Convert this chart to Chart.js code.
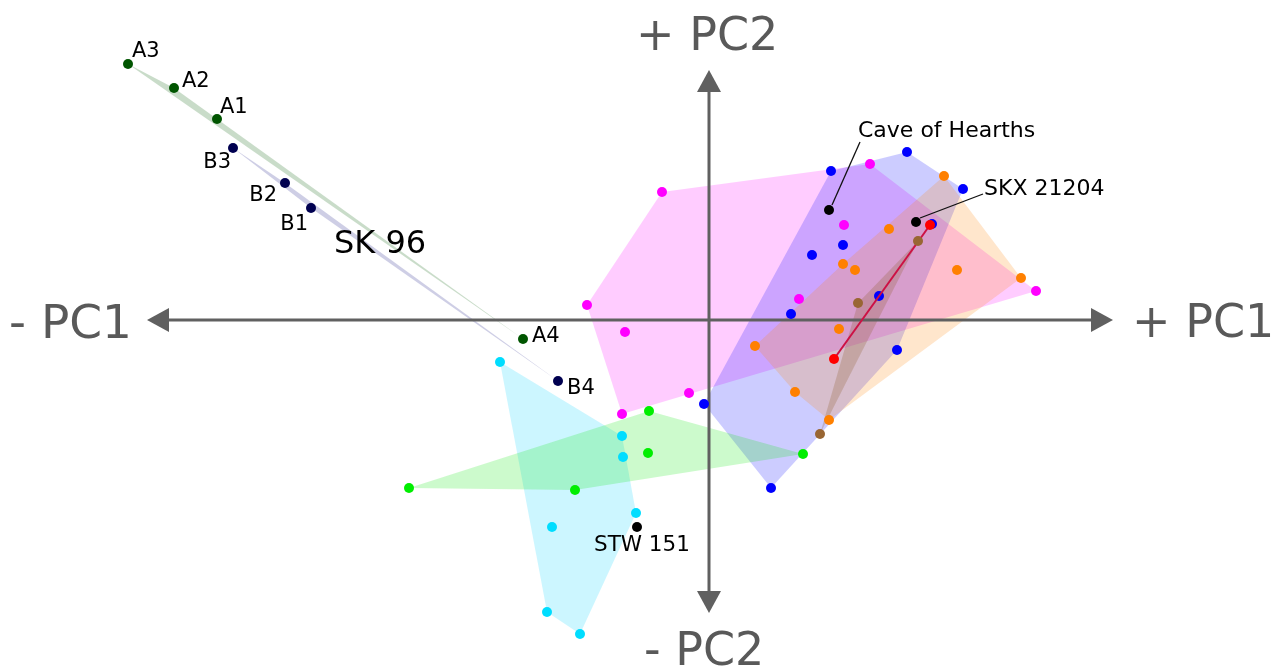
<!DOCTYPE html>
<html>
<head>
<meta charset="utf-8">
<script src="https://cdn.jsdelivr.net/npm/chart.js@4"></script>
<style>
  html, body { margin: 0; background: #fff; }
  #wrap { width: 1287px; height: 671px; }
</style>
</head>
<body>
<div id="wrap"><canvas id="pca"></canvas></div>
<script>
// PC scores (PC1, PC2)
const magenta = [[-0.47,1.28],[-1.22,0.15],[-0.84,-0.12],[-0.20,-0.73],[-0.87,-0.94],[1.35,0.95],[0.90,0.21],[1.61,1.56],[3.27,0.29]];
const blue    = [[1.98,1.68],[1.22,1.49],[2.54,1.31],[2.23,0.96],[1.34,0.75],[1.03,0.65],[1.70,0.24],[0.82,0.06],[1.88,-0.30],[-0.05,-0.84],[0.62,-1.68]];
const orange  = [[2.35,1.44],[1.80,0.91],[1.34,0.56],[1.46,0.50],[2.48,0.50],[3.12,0.42],[1.30,-0.09],[0.46,-0.26],[0.86,-0.72],[1.20,-1.00]];
const cyan    = [[-2.09,-0.42],[-0.87,-1.16],[-0.86,-1.37],[-0.73,-1.93],[-1.57,-2.07],[-1.62,-2.92],[-1.29,-3.14]];
const green   = [[-3.00,-1.68],[-1.34,-1.70],[-0.60,-0.91],[-0.61,-1.33],[0.94,-1.34]];
const brown   = [[2.09,0.79],[1.49,0.17],[1.11,-1.14]];
const red     = [[2.21,0.95],[1.25,-0.39]];

const sk96A = [[-4.92,2.01],[-5.35,2.32],[-5.81,2.56],[-1.86,-0.19]];
const sk96B = [[-3.98,1.12],[-4.24,1.37],[-4.76,1.72],[-1.51,-0.61]];
const sk96ALabels = ["A1","A2","A3","A4"];
const sk96BLabels = ["B1","B2","B3","B4"];

const named = [[1.20,1.10],[2.07,0.98],[-0.72,-2.07]];
const namedLabels = ["Cave of Hearths","SKX 21204","STW 151"];

const axisLabels = ["+ PC1","- PC1","+ PC2","- PC2"];

const pts = a => a.map(p => ({x: p[0], y: p[1]}));

// label placement (pixel offsets from the point), kept apart from the data
const labelPos = {
  A1: [3,-6,'left',21], A2: [8,-1,'left',21], A3: [4,-7,'left',21], A4: [9,3,'left',21],
  B1: [-3,22,'right',21], B2: [-8,18,'right',21], B3: [-2,20,'right',21], B4: [9,13,'left',21],
  "Cave of Hearths": [29,-73,'left',22], "SKX 21204": [68,-27,'left',22], "STW 151": [-43,24,'left',21.5]
};
const leaders = {"Cave of Hearths": [[3,-5],[31,-68]], "SKX 21204": [[4,-4],[67,-28]]};

const hulls = [
  {data: sk96A, fill: 'rgba(60,130,60,0.28)'},
  {data: sk96B, fill: 'rgba(80,80,160,0.28)'},
  {data: magenta, fill: 'rgba(255,0,255,0.2)'},
  {data: blue, fill: 'rgba(0,0,255,0.2)'},
  {data: orange, fill: 'rgba(255,128,0,0.2)'},
  {data: cyan, fill: 'rgba(0,210,255,0.2)'},
  {data: green, fill: 'rgba(0,230,0,0.2)'},
  {data: brown, fill: 'rgba(140,90,40,0.25)'}
];

function convexHull(p) {
  p = p.slice().sort((a, b) => a[0] - b[0] || a[1] - b[1]);
  const cross = (o, a, b) => (a[0]-o[0])*(b[1]-o[1]) - (a[1]-o[1])*(b[0]-o[0]);
  const lower = [], upper = [];
  for (const q of p) { while (lower.length >= 2 && cross(lower[lower.length-2], lower[lower.length-1], q) <= 0) lower.pop(); lower.push(q); }
  for (let i = p.length - 1; i >= 0; i--) { const q = p[i]; while (upper.length >= 2 && cross(upper[upper.length-2], upper[upper.length-1], q) <= 0) upper.pop(); upper.push(q); }
  upper.pop(); lower.pop();
  return lower.concat(upper);
}

const grey = '#606060';

const hullPlugin = {
  id: 'hulls',
  beforeDatasetsDraw(chart) {
    const {ctx, scales: {x, y}} = chart;
    ctx.save();
    hulls.forEach(h => {
      const px = h.data.map(p => [x.getPixelForValue(p[0]), y.getPixelForValue(p[1])]);
      const hull = convexHull(px);
      ctx.beginPath();
      hull.forEach((q, i) => i ? ctx.lineTo(q[0], q[1]) : ctx.moveTo(q[0], q[1]));
      ctx.closePath();
      ctx.fillStyle = h.fill;
      ctx.fill();
    });

    // axes with arrow heads
    const cx = x.getPixelForValue(0), cy = y.getPixelForValue(0);
    const left = 147, right = 1113, top = 70, bottom = 613, len = 22, hw = 12;
    ctx.strokeStyle = grey; ctx.fillStyle = grey; ctx.lineWidth = 3;
    ctx.beginPath();
    ctx.moveTo(left + len, cy); ctx.lineTo(right - len, cy);
    ctx.moveTo(cx, top + len); ctx.lineTo(cx, bottom - len);
    ctx.stroke();
    const tri = (a, b, c) => { ctx.beginPath(); ctx.moveTo(...a); ctx.lineTo(...b); ctx.lineTo(...c); ctx.closePath(); ctx.fill(); };
    tri([left, cy], [left + len, cy - hw], [left + len, cy + hw]);
    tri([right, cy], [right - len, cy - hw], [right - len, cy + hw]);
    tri([cx, top], [cx - hw, top + len], [cx + hw, top + len]);
    tri([cx, bottom], [cx - hw, bottom - len], [cx + hw, bottom - len]);
    ctx.restore();
  },
  afterDatasetsDraw(chart) {
    const {ctx, scales: {x, y}} = chart;
    ctx.save();
    ctx.textBaseline = 'alphabetic';
    const put = (name, p) => {
      const [dx, dy, align, size] = labelPos[name];
      const px = x.getPixelForValue(p[0]), py = y.getPixelForValue(p[1]);
      ctx.font = size + 'px "DejaVu Sans"';
      ctx.fillStyle = '#000';
      ctx.textAlign = align;
      ctx.fillText(name, px + dx, py + dy);
      if (leaders[name]) {
        const [[ax, ay], [bx, by]] = leaders[name];
        ctx.strokeStyle = '#111'; ctx.lineWidth = 1.3;
        ctx.beginPath(); ctx.moveTo(px + ax, py + ay); ctx.lineTo(px + bx, py + by); ctx.stroke();
      }
    };
    sk96A.forEach((p, i) => put(sk96ALabels[i], p));
    sk96B.forEach((p, i) => put(sk96BLabels[i], p));
    named.forEach((p, i) => put(namedLabels[i], p));

    ctx.fillStyle = '#000';
    ctx.textAlign = 'left';
    ctx.font = '32px "DejaVu Sans"';
    ctx.fillText('SK 96', 334, 253);

    ctx.fillStyle = '#595959';
    ctx.font = '46px "DejaVu Sans"';
    ctx.textAlign = 'left';
    ctx.fillText(axisLabels[0], 1132, 337);
    ctx.font = '47px "DejaVu Sans"';
    ctx.fillText(axisLabels[1], 9, 338);
    ctx.font = '46px "DejaVu Sans"';
    ctx.fillText(axisLabels[2], 636, 50);
    ctx.fillText(axisLabels[3], 644, 665);
    ctx.restore();
  }
};

const dot = (data, color) => ({
  data: pts(data), backgroundColor: color, borderWidth: 0, pointBorderWidth: 0,
  pointRadius: 5, pointHoverRadius: 5
});

new Chart('pca', {
  type: 'scatter',
  data: {
    datasets: [
      dot(magenta, '#ff00ff'),
      dot(orange, '#ff8000'),
      dot(brown, '#996633'),
      Object.assign(dot(red, '#ff0000'), {showLine: true, borderColor: '#cc1144', borderWidth: 2}),
      dot(blue, '#0000ff'),
      dot(cyan, '#00ddff'),
      dot(green, '#00ee00'),
      dot(named, '#000000'),
      dot(sk96A, '#005500'),
      dot(sk96B, '#000050')
    ]
  },
  options: {
    responsive: true,
    maintainAspectRatio: false,
    animation: false,
    layout: {padding: 0, autoPadding: false},
    scales: {
      x: {type: 'linear', display: false, min: -7.09, max: 5.78},
      y: {type: 'linear', display: false, min: -3.51, max: 3.20}
    },
    plugins: {legend: {display: false}, tooltip: {enabled: false}}
  },
  plugins: [hullPlugin]
});
</script>
</body>
</html>
